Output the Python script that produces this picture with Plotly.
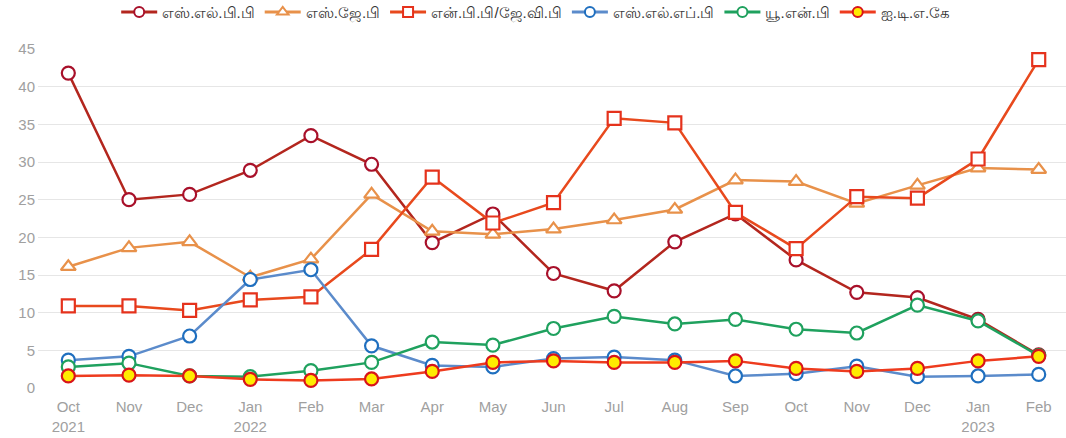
import plotly.graph_objects as go

months = ["2021-10", "2021-11", "2021-12", "2022-01", "2022-02", "2022-03", "2022-04",
          "2022-05", "2022-06", "2022-07", "2022-08", "2022-09", "2022-10", "2022-11",
          "2022-12", "2023-01", "2023-02"]
tick_labels = ["Oct<br>2021", "Nov", "Dec", "Jan<br>2022", "Feb", "Mar", "Apr", "May", "Jun",
               "Jul", "Aug", "Sep", "Oct", "Nov", "Dec", "Jan<br>2023", "Feb"]

slpp = [41.8, 25.0, 25.7, 28.9, 33.5, 29.7, 19.3, 23.1, 15.2, 12.9, 19.4, 23.1, 17.0, 12.7, 12.0, 9.1, 4.4]
sjb = [16.1, 18.6, 19.4, 14.7, 17.1, 25.7, 20.8, 20.4, 21.1, 22.3, 23.7, 27.6, 27.4, 24.5, 26.9, 29.2, 29.0]
npp = [10.9, 10.9, 10.3, 11.7, 12.1, 18.4, 28.0, 21.9, 24.6, 35.8, 35.2, 23.3, 18.5, 25.4, 25.2, 30.4, 43.6]
slfp = [3.7, 4.2, 6.9, 14.4, 15.7, 5.6, 3.0, 2.8, 3.9, 4.1, 3.7, 1.6, 1.9, 2.9, 1.5, 1.6, 1.8]
unp = [2.8, 3.3, 1.6, 1.5, 2.3, 3.4, 6.1, 5.7, 7.9, 9.5, 8.5, 9.1, 7.8, 7.3, 11.0, 8.9, 4.3]
itak = [1.6, 1.7, 1.6, 1.15, 1.0, 1.2, 2.2, 3.4, 3.6, 3.4, 3.4, 3.6, 2.6, 2.2, 2.6, 3.6, 4.2]

names = ["எஸ்.எல்.பி.பி", "எஸ்.ஜே.பி", "என்.பி.பி/ஜே.வி.பி", "எஸ்.எல்.எப்.பி", "யூ.என்.பி", "ஐ.டி.எ.கே"]

series = [
    (names[0], slpp, "#B3261E", "circle", "white", "#A8102A"),
    (names[1], sjb, "#E8914A", "triangle-up", "white", "#E8914A"),
    (names[2], npp, "#E8491D", "square", "white", "#E5321C"),
    (names[3], slfp, "#5B8BCB", "circle", "white", "#1F6FBF"),
    (names[4], unp, "#1FA15E", "circle", "white", "#1FA15E"),
    (names[5], itak, "#EE3B1E", "circle", "#FFEB00", "#D8141A"),
]

fig = go.Figure()
for i, (name, vals, lc, sym, fill, mc) in enumerate(series):
    fig.add_trace(go.Scatter(
        x=months, y=vals, name=name, mode="lines+markers",
        line=dict(color=lc, width=2.5),
        marker=dict(symbol=sym, size=13, color=fill, line=dict(color=mc, width=2.2)),
        cliponaxis=False, showlegend=False, legendgroup=str(i),
    ))
# legend entries with smaller symbols, as in the reference
for i, (name, vals, lc, sym, fill, mc) in enumerate(series):
    fig.add_trace(go.Scatter(
        x=[None], y=[None], name=name, mode="lines+markers",
        line=dict(color=lc, width=3),
        marker=dict(symbol=sym, size=10, color=fill, line=dict(color=mc, width=2)),
        showlegend=True, legendgroup=str(i),
    ))

fig.update_layout(
    width=1066, height=438,
    margin=dict(l=38, r=0, t=49, b=50),
    plot_bgcolor="white", paper_bgcolor="white",
    font=dict(family="Arial, Liberation Sans, sans-serif", color="#999999", size=14),
    showlegend=True,
    legend=dict(orientation="h", x=0.503, xanchor="center", xref="container",
                y=0.972, yanchor="middle", yref="container", tracegroupgap=20,
                font=dict(color="#333333", size=15),
                itemwidth=36),
    xaxis=dict(type="category", categoryorder="array", categoryarray=months,
               tickvals=months, ticktext=tick_labels, range=[-0.5, 16.45],
               showgrid=False, zeroline=False, showline=False, ticks="",
               automargin=False, ticklabelstandoff=8,
               tickfont=dict(color="#A0A0A0", size=15)),
    yaxis=dict(range=[0, 45], dtick=5, showgrid=True, gridcolor="#E6E6E6",
               zeroline=False, showline=False, ticks="", automargin=False,
               ticklabelstandoff=2,
               tickfont=dict(color="#A0A0A0", size=15)),
)

fig.write_html("out.html", config={"displayModeBar": False},
               post_script="document.body.style.margin='0';")
